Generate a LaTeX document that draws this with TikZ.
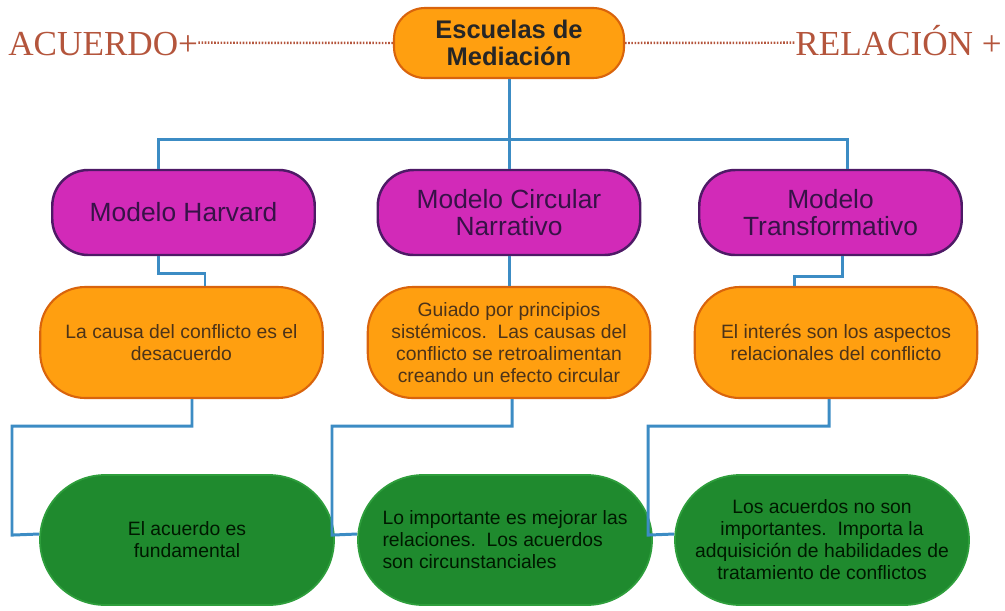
\documentclass[tikz,border=0pt]{standalone}
\usepackage{fontspec}
\setmainfont{Liberation Sans}
\newfontfamily\serifa{Liberation Serif}
\definecolor{naranja}{HTML}{FF9F10}
\definecolor{naranjaborde}{HTML}{D9640C}
\definecolor{rosa}{HTML}{D22AB8}
\definecolor{morado}{HTML}{4E1A66}
\definecolor{verde}{HTML}{1F8A2E}
\definecolor{verdeborde}{HTML}{2E9E3C}
\definecolor{azul}{HTML}{3C8CC4}
\definecolor{teja}{HTML}{B4553C}

\begin{document}
\begin{tikzpicture}[every node/.style={font=\fontsize{11}{12.5}\selectfont},
  escuela/.style={draw=naranjaborde,fill=naranja,line width=1.2pt,rounded corners=0.62cm,minimum width=4.6cm,minimum height=1.4cm,align=center,font=\fontsize{14.5}{15.5}\selectfont\bfseries,text=black!85},
  modelo/.style={draw=morado,fill=rosa,line width=1.4pt,rounded corners=0.72cm,minimum width=5.25cm,minimum height=1.7cm,align=center,font=\fontsize{15}{15.5}\selectfont,text=morado!70!black},
  causa/.style={draw=naranjaborde,fill=naranja,line width=1.2pt,rounded corners=0.9cm,minimum width=5.65cm,minimum height=2.22cm,align=center,text=brown!40!black},
  acuerdo/.style={draw=verdeborde,fill=verde,line width=1pt,rounded corners=1.3cm,minimum width=5.88cm,minimum height=2.6cm,align=center,text=black!90!green},
  polo/.style={inner sep=0pt,text height=14pt,text depth=0pt,text=teja,font=\serifa\fontsize{20}{22}\selectfont},
  enlace/.style={draw=azul,line width=1.7pt},
  puntos/.style={draw=teja,line width=1.4pt,dash pattern=on 0.9pt off 0.9pt}]
\useasboundingbox (0,0) rectangle (20.1,-12.2);
% cabecera
\node[escuela] (esc) at (10.18,-0.86) {Escuelas de\\Mediación};
\node[polo,anchor=base west] (acu) at (0.16,-1.1) {ACUERDO+};
\node[polo,anchor=base east] (rel) at (20.04,-1.1) {RELACIÓN +};
\draw[puntos] (acu.east) -- (esc.west);
\draw[puntos] (esc.east) -- (rel.west);
% modelos
\node[modelo] (har) at (3.67,-4.25) {Modelo Harvard};
\node[modelo] (cir) at (10.18,-4.25) {Modelo Circular\\Narrativo};
\node[modelo] (tra) at (16.61,-4.25) {Modelo\\Transformativo};
\coordinate (bus) at (10.18,-2.78);
\draw[enlace] (esc.south) -- (cir.north);
\draw[enlace] ([xshift=-0.5cm]har.north) |- (bus) -| ([xshift=0.33cm]tra.north);
% causas
\node[causa] (c1) at (3.63,-6.85) {La causa del conflicto es el\\desacuerdo};
\node[causa] (c2) at (10.18,-6.85) {Guiado por principios\\sistémicos.\ \ Las causas del\\conflicto se retroalimentan\\creando un efecto circular};
\node[causa] (c3) at (16.72,-6.85) {El interés son los aspectos\\relacionales del conflicto};
\draw[enlace] ([xshift=-0.5cm]har.south) -- ++(0,-0.34) -| ([xshift=0.47cm]c1.north);
\draw[enlace] (cir.south) -- (c2.north);
\draw[enlace] ([xshift=0.23cm]tra.south) -- ++(0,-0.4) -| ([xshift=-0.84cm]c3.north);
% acuerdos
\node[acuerdo] (a1) at (3.74,-10.8) {El acuerdo es\\fundamental};
\node[acuerdo,align=left] (a2) at (10.1,-10.8) {Lo importante es mejorar las\\relaciones.\ \ Los acuerdos\\son circunstanciales};
\node[acuerdo] (a3) at (16.44,-10.8) {Los acuerdos no son\\importantes.\ \ Importa la\\adquisición de habilidades de\\tratamiento de conflictos};
\draw[enlace] ([xshift=0.21cm]c1.south) -- ++(0,-0.54) -| ++(-3.6,-2.18) -- ([yshift=0.12cm]a1.west);
\draw[enlace] ([xshift=0.06cm]c2.south) -- ++(0,-0.54) -| ++(-3.6,-2.18) -- ([yshift=0.12cm]a2.west);
\draw[enlace] ([xshift=-0.14cm]c3.south) -- ++(0,-0.54) -| ++(-3.62,-2.18) -- ([yshift=0.12cm]a3.west);
\end{tikzpicture}
\end{document}
